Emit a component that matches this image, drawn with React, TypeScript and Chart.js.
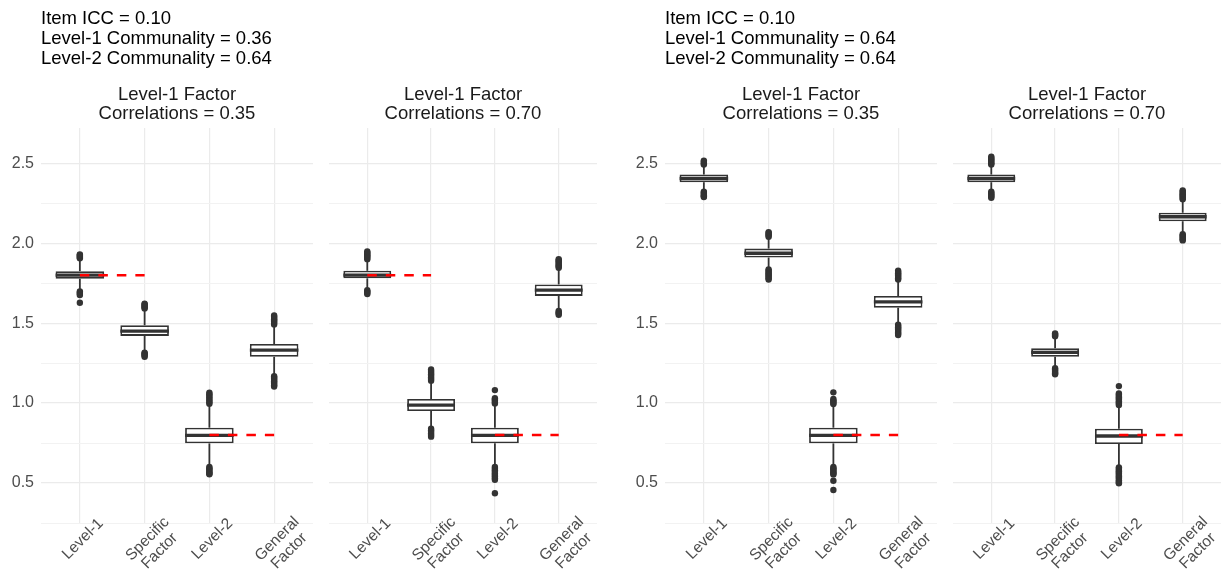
import React, { useEffect, useRef } from 'react';
import { Chart, registerables } from 'chart.js';

Chart.register(...registerables);

const FONT = "'Liberation Sans', Arial, sans-serif";

// ---------- text ----------
const categories: string[][] = [['Level-1'], ['Specific', 'Factor'], ['Level-2'], ['General', 'Factor']];
const yTickValues = [0.25, 0.5, 0.75, 1.0, 1.25, 1.5, 1.75, 2.0, 2.25, 2.5];
const yTickLabels = ['', '0.5', '', '1.0', '', '1.5', '', '2.0', '', '2.5'];
const leftHeader = ['Item ICC = 0.10', 'Level-1 Communality = 0.36', 'Level-2 Communality = 0.64'];
const rightHeader = ['Item ICC = 0.10', 'Level-1 Communality = 0.64', 'Level-2 Communality = 0.64'];
const facetTitle035 = ['Level-1 Factor', 'Correlations = 0.35'];
const facetTitle070 = ['Level-1 Factor', 'Correlations = 0.70'];

// ---------- panel 1: L1 communality 0.36, correlations 0.35 ----------
const p1Q1 = [1.777, 1.420, 0.748, 1.289];
const p1Median = [1.800, 1.450, 0.798, 1.331];
const p1Q3 = [1.825, 1.487, 0.846, 1.369];
const p1WhiskerLow = [1.710, 1.322, 0.605, 1.172];
const p1WhiskerHigh = [1.890, 1.585, 0.990, 1.485];
const p1Outliers = [
  [1.905, 1.912, 1.918, 1.925, 1.930, 1.698, 1.690, 1.683, 1.675, 1.627],
  [1.592, 1.598, 1.604, 1.610, 1.616, 1.622, 1.315, 1.310, 1.304, 1.298, 1.290],
  [0.995, 1.005, 1.015, 1.025, 1.035, 1.045, 1.055, 1.065, 0.600, 0.592, 0.584, 0.576, 0.568, 0.560, 0.555],
  [1.492, 1.500, 1.508, 1.516, 1.524, 1.532, 1.540, 1.548, 1.168, 1.160, 1.152, 1.144, 1.136, 1.128, 1.120, 1.112, 1.104],
];

// ---------- panel 2: L1 communality 0.36, correlations 0.70 ----------
const p2Q1 = [1.780, 0.950, 0.748, 1.670];
const p2Median = [1.800, 0.987, 0.798, 1.706];
const p2Q3 = [1.827, 1.025, 0.846, 1.742];
const p2WhiskerLow = [1.712, 0.842, 0.605, 1.580];
const p2WhiskerHigh = [1.895, 1.135, 0.990, 1.840];
const p2Outliers = [
  [1.900, 1.908, 1.916, 1.924, 1.932, 1.940, 1.948, 1.706, 1.698, 1.690, 1.682],
  [1.140, 1.150, 1.160, 1.170, 1.180, 1.190, 1.200, 1.210, 0.839, 0.830, 0.820, 0.810, 0.800, 0.790],
  [1.081, 1.030, 1.022, 1.014, 1.006, 0.998, 0.600, 0.590, 0.580, 0.570, 0.560, 0.550, 0.540, 0.530, 0.520, 0.436],
  [1.846, 1.854, 1.862, 1.870, 1.878, 1.886, 1.894, 1.900, 1.576, 1.568, 1.560, 1.552],
];

// ---------- panel 3: L1 communality 0.64, correlations 0.35 ----------
const p3Q1 = [2.381, 1.910, 0.748, 1.596];
const p3Median = [2.404, 1.937, 0.798, 1.633];
const p3Q3 = [2.429, 1.966, 0.846, 1.669];
const p3WhiskerLow = [2.325, 1.840, 0.605, 1.495];
const p3WhiskerHigh = [2.485, 2.030, 0.990, 1.765];
const p3Outliers = [
  [2.492, 2.500, 2.508, 2.516, 2.322, 2.315, 2.308, 2.300, 2.293, 2.288],
  [2.040, 2.048, 2.056, 2.064, 2.069, 1.836, 1.828, 1.820, 1.812, 1.804, 1.796, 1.788, 1.780, 1.772],
  [1.067, 1.025, 1.017, 1.009, 1.001, 0.994, 0.600, 0.592, 0.584, 0.576, 0.568, 0.560, 0.554, 0.514, 0.456],
  [1.772, 1.780, 1.788, 1.796, 1.804, 1.812, 1.820, 1.828, 1.490, 1.482, 1.474, 1.466, 1.458, 1.450, 1.442, 1.434, 1.426],
];

// ---------- panel 4: L1 communality 0.64, correlations 0.70 ----------
const p4Q1 = [2.381, 1.289, 0.744, 2.137];
const p4Median = [2.404, 1.317, 0.794, 2.165];
const p4Q3 = [2.429, 1.342, 0.840, 2.190];
const p4WhiskerLow = [2.325, 1.222, 0.600, 2.062];
const p4WhiskerHigh = [2.485, 1.410, 0.985, 2.265];
const p4Outliers = [
  [2.492, 2.500, 2.508, 2.516, 2.524, 2.532, 2.540, 2.322, 2.314, 2.306, 2.298, 2.290, 2.284],
  [1.418, 1.424, 1.430, 1.436, 1.218, 1.210, 1.202, 1.194, 1.186, 1.180],
  [1.106, 1.060, 1.052, 1.044, 1.036, 1.028, 1.020, 1.012, 1.004, 0.996, 0.988, 0.598, 0.590, 0.582, 0.574, 0.566, 0.558, 0.550, 0.542, 0.534, 0.526, 0.518, 0.510, 0.502, 0.498],
  [2.274, 2.282, 2.290, 2.298, 2.306, 2.314, 2.322, 2.330, 2.056, 2.048, 2.040, 2.032, 2.024, 2.017],
];

// ---------- true-value reference lines (red dashed) ----------
const leftReferenceLevel1 = [1.8, 1.8, null, null];
const rightReferenceLevel1 = [null, null, null, null];
const referenceLevel2 = [null, null, 0.8, 0.8];

type PanelData = {
  q1: number[]; median: number[]; q3: number[]; wLo: number[]; wHi: number[]; outliers: number[][];
  refs: (number | null)[][]; header: string[] | null; title: string[];
};

const panelData: PanelData[] = [
  { q1: p1Q1, median: p1Median, q3: p1Q3, wLo: p1WhiskerLow, wHi: p1WhiskerHigh, outliers: p1Outliers, refs: [leftReferenceLevel1, referenceLevel2], header: leftHeader, title: facetTitle035 },
  { q1: p2Q1, median: p2Median, q3: p2Q3, wLo: p2WhiskerLow, wHi: p2WhiskerHigh, outliers: p2Outliers, refs: [leftReferenceLevel1, referenceLevel2], header: null, title: facetTitle070 },
  { q1: p3Q1, median: p3Median, q3: p3Q3, wLo: p3WhiskerLow, wHi: p3WhiskerHigh, outliers: p3Outliers, refs: [rightReferenceLevel1, referenceLevel2], header: rightHeader, title: facetTitle035 },
  { q1: p4Q1, median: p4Median, q3: p4Q3, wLo: p4WhiskerLow, wHi: p4WhiskerHigh, outliers: p4Outliers, refs: [rightReferenceLevel1, referenceLevel2], header: null, title: facetTitle070 },
];

// layout (canvas placement)
const panelLayout = [
  { left: 0, width: 317, yAxisWidth: 41 },
  { left: 325, width: 276, yAxisWidth: 0 },
  { left: 612, width: 329, yAxisWidth: 53 },
  { left: 949, width: 276, yAxisWidth: 0 },
];
const CANVAS_H = 569;
const INK = '#333333';

const rotatedLabels = {
  id: 'rotatedLabels',
  afterDraw(chart: any) {
    const ctx = chart.ctx;
    const xs = chart.scales.x;
    const baseY = chart.chartArea.bottom + 16;
    ctx.save();
    ctx.font = `15.5px ${FONT}`;
    ctx.fillStyle = '#4d4d4d';
    ctx.textAlign = 'center';
    ctx.textBaseline = 'middle';
    categories.forEach((lines, i) => {
      const px = xs.getPixelForValue(i);
      ctx.save();
      ctx.translate(px + 3, baseY);
      ctx.rotate(-Math.PI / 4);
      lines.forEach((t, k) => ctx.fillText(t, 0, k * 17));
      ctx.restore();
    });
    ctx.restore();
  },
};

function buildConfig(d: PanelData, lay: { yAxisWidth: number }) {
  const idx = [0, 1, 2, 3];
  const datasets: any[] = [];
  d.refs.forEach((ref) => {
    datasets.push({
      type: 'line',
      data: idx.map((i) => ({ x: i, y: ref[i] })),
      borderColor: '#ff0000',
      borderWidth: 2.5,
      borderDash: [9.5, 9],
      pointRadius: 0,
      fill: false,
      spanGaps: false,
      order: 0,
    });
  });
  datasets.push({
    type: 'line',
    showLine: false,
    data: idx.map((i) => ({ x: i, y: d.median[i] })),
    pointStyle: 'line',
    pointBorderColor: INK,
    pointBorderWidth: 3.4,
    pointRadius: (c: any) => {
      const s = c.chart.scales.x;
      return Math.abs(s.getPixelForValue(0.375) - s.getPixelForValue(0));
    },
    order: 1,
  });
  datasets.push({
    type: 'line',
    showLine: false,
    data: d.outliers.flatMap((vals, i) => vals.map((v) => ({ x: i, y: v }))),
    pointRadius: 3.2,
    pointBackgroundColor: INK,
    pointBorderWidth: 0,
    order: 2,
  });
  datasets.push({
    type: 'bar',
    data: idx.map((i) => ({ x: i, y: [d.q1[i], d.q3[i]] })),
    backgroundColor: '#ffffff',
    borderColor: INK,
    borderWidth: 1.8,
    borderSkipped: false,
    grouped: false,
    barPercentage: 0.75,
    categoryPercentage: 1,
    order: 3,
  });
  datasets.push({
    type: 'bar',
    data: idx.map((i) => ({ x: i, y: [d.wLo[i], d.q1[i]] })),
    backgroundColor: INK,
    borderWidth: 0,
    grouped: false,
    barPercentage: 0.05,
    maxBarThickness: 1.8,
    order: 4,
  });
  datasets.push({
    type: 'bar',
    data: idx.map((i) => ({ x: i, y: [d.q3[i], d.wHi[i]] })),
    backgroundColor: INK,
    borderWidth: 0,
    grouped: false,
    barPercentage: 0.05,
    maxBarThickness: 1.8,
    order: 4,
  });

  const hasHeader = !!d.header;
  const showY = lay.yAxisWidth > 0;

  return {
    type: 'bar',
    data: { datasets },
    plugins: [rotatedLabels],
    options: {
      animation: false,
      responsive: false,
      devicePixelRatio: 1,
      events: [],
      layout: { padding: 0 },
      plugins: {
        legend: { display: false },
        tooltip: { enabled: false },
        title: {
          display: hasHeader,
          text: d.header || '',
          align: 'start',
          fullSize: false,
          color: '#000000',
          font: { family: FONT, size: 18.5, weight: 'normal', lineHeight: '20px' },
          padding: { top: 9, bottom: 0 },
        },
        subtitle: {
          display: true,
          text: d.title,
          align: 'center',
          fullSize: false,
          color: '#1a1a1a',
          font: { family: FONT, size: 18.5, weight: 'normal', lineHeight: '19.3px' },
          padding: { top: hasHeader ? 15.85 : 84.85, bottom: 4.55 },
        },
      },
      scales: {
        x: {
          type: 'linear',
          min: -0.6,
          max: 3.6,
          offset: false,
          afterBuildTicks: (s: any) => { s.ticks = idx.map((v) => ({ value: v })); },
          afterFit: (s: any) => { s.height = 46; },
          ticks: { display: false },
          grid: { offset: false, color: '#ebebeb', lineWidth: 1.2, drawTicks: false },
          border: { display: false },
        },
        y: {
          type: 'linear',
          min: 0.25,
          max: 2.72,
          beginAtZero: false,
          afterBuildTicks: (s: any) => { s.ticks = yTickValues.map((v) => ({ value: v })); },
          afterFit: (s: any) => { s.width = lay.yAxisWidth; },
          ticks: {
            display: showY,
            padding: 7,
            color: '#4d4d4d',
            font: { family: FONT, size: 16 },
            callback: (_v: any, i: number) => yTickLabels[i],
          },
          grid: {
            color: (c: any) => (yTickLabels[c.index] ? '#ebebeb' : '#f2f2f2'),
            lineWidth: (c: any) => (yTickLabels[c.index] ? 1.2 : 1),
            drawTicks: false,
          },
          border: { display: false },
        },
      },
    },
  };
}

export default function App() {
  const r0 = useRef<HTMLCanvasElement>(null);
  const r1 = useRef<HTMLCanvasElement>(null);
  const r2 = useRef<HTMLCanvasElement>(null);
  const r3 = useRef<HTMLCanvasElement>(null);
  const refs = [r0, r1, r2, r3];

  useEffect(() => {
    const charts = panelData.map((d, i) => new Chart(refs[i].current as any, buildConfig(d, panelLayout[i]) as any));
    return () => charts.forEach((c) => c.destroy());
  }, []);

  return (
    <div style={{ position: 'absolute', left: 0, top: 0, width: 1225, height: CANVAS_H, background: '#ffffff', overflow: 'hidden' }}>
      {panelLayout.map((p, i) => (
        <canvas
          key={i}
          ref={refs[i]}
          width={p.width}
          height={CANVAS_H}
          style={{ position: 'absolute', left: p.left, top: 0, width: p.width, height: CANVAS_H }}
        />
      ))}
    </div>
  );
}
